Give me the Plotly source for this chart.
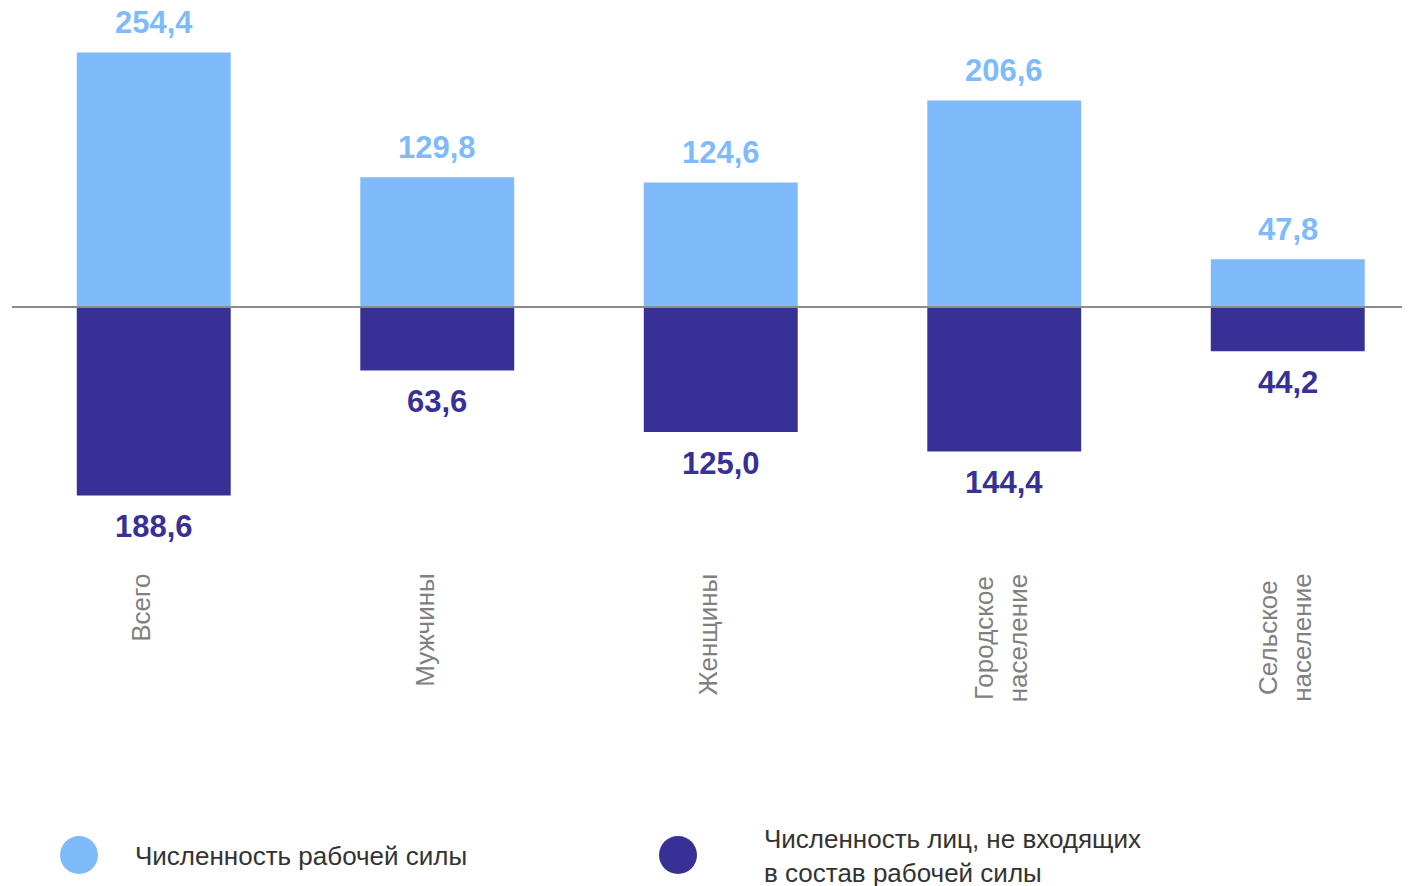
import plotly.graph_objects as go

# ── данные ─────────────────────────────────
categories = ["Всего", "Мужчины", "Женщины", "Городское<br>население", "Сельское<br>население"]
labor_force = [254.4, 129.8, 124.6, 206.6, 47.8]        # численность рабочей силы
not_in_labor = [188.6, 63.6, 125.0, 144.4, 44.2]       # не входящие в состав рабочей силы
legend_names = ["Численность рабочей силы", "Численность лиц, не входящих<br>в состав рабочей силы"]

LIGHT = "#7FBBFA"
DARK = "#373196"
OFF = 8                      # отступ страницы (body margin)
W, H = 1410 - OFF, 886 - OFF
ML, MB = 12 - OFF, 326
PLOT_W, PLOT_H = W - ML, H - MB
ZERO = 307 - OFF             # положение нулевой линии в пикселях фигуры


def fmt(v):
    return f"{v:.1f}".replace(".", ",")


def px_x(x):
    return (x - OFF - ML) / PLOT_W


def px_y(y):
    return (PLOT_H - (y - OFF)) / PLOT_H


xs = list(range(len(categories)))
fig = go.Figure()

fig.add_trace(go.Bar(x=xs, y=labor_force, marker=dict(color=LIGHT, line_width=0),
                     width=0.543, showlegend=False, hoverinfo="skip"))
fig.add_trace(go.Bar(x=xs, y=[-v for v in not_in_labor], marker=dict(color=DARK, line_width=0),
                     width=0.543, showlegend=False, hoverinfo="skip"))

# подписи значений
for i, v in enumerate(labor_force):
    fig.add_annotation(x=i, y=v, text=f"<b>{fmt(v)}</b>", showarrow=False, yanchor="middle",
                       yshift=30, font=dict(size=31, color=LIGHT, family="Liberation Sans"))
for i, v in enumerate(not_in_labor):
    fig.add_annotation(x=i, y=-v, text=f"<b>{fmt(v)}</b>", showarrow=False, yanchor="middle",
                       yshift=-31, font=dict(size=31, color=DARK, family="Liberation Sans"))

# подписи категорий (повёрнутые)
for i, c in enumerate(categories):
    shift = -3 if "<br>" in c else -13
    fig.add_annotation(x=i, y=0, yref="paper", text=c, showarrow=False, textangle=-90,
                       yanchor="top", yshift=-12, xshift=shift,
                       font=dict(size=26, color="#808080", family="Liberation Sans"))

# легенда
for cx, color, tx, name in [(79, LIGHT, 133, legend_names[0]), (678, DARK, 762, legend_names[1])]:
    r = 19
    fig.add_shape(type="circle", xref="paper", yref="paper",
                  x0=px_x(cx - r), x1=px_x(cx + r), y0=px_y(855 + r), y1=px_y(855 - r),
                  fillcolor=color, line_width=0)
    fig.add_annotation(xref="paper", yref="paper", x=px_x(tx), y=px_y(856), text=name,
                       showarrow=False, xanchor="left", yanchor="middle", align="left",
                       font=dict(size=26, color="#333333", family="Liberation Sans"))

# нулевая линия
fig.add_shape(type="line", xref="paper", yref="y", x0=0, x1=1, y0=0, y1=0,
              line=dict(color="#8C8C8C", width=2), layer="above")

fig.update_layout(
    width=W, height=H,
    margin=dict(l=ML, r=0, t=0, b=MB),
    paper_bgcolor="white", plot_bgcolor="white",
    barmode="relative",
    xaxis=dict(range=[-0.5, -0.5 + PLOT_W / 283.5], visible=False),
    yaxis=dict(range=[-(PLOT_H - ZERO), ZERO], visible=False),
)

fig.write_html("out.html")
